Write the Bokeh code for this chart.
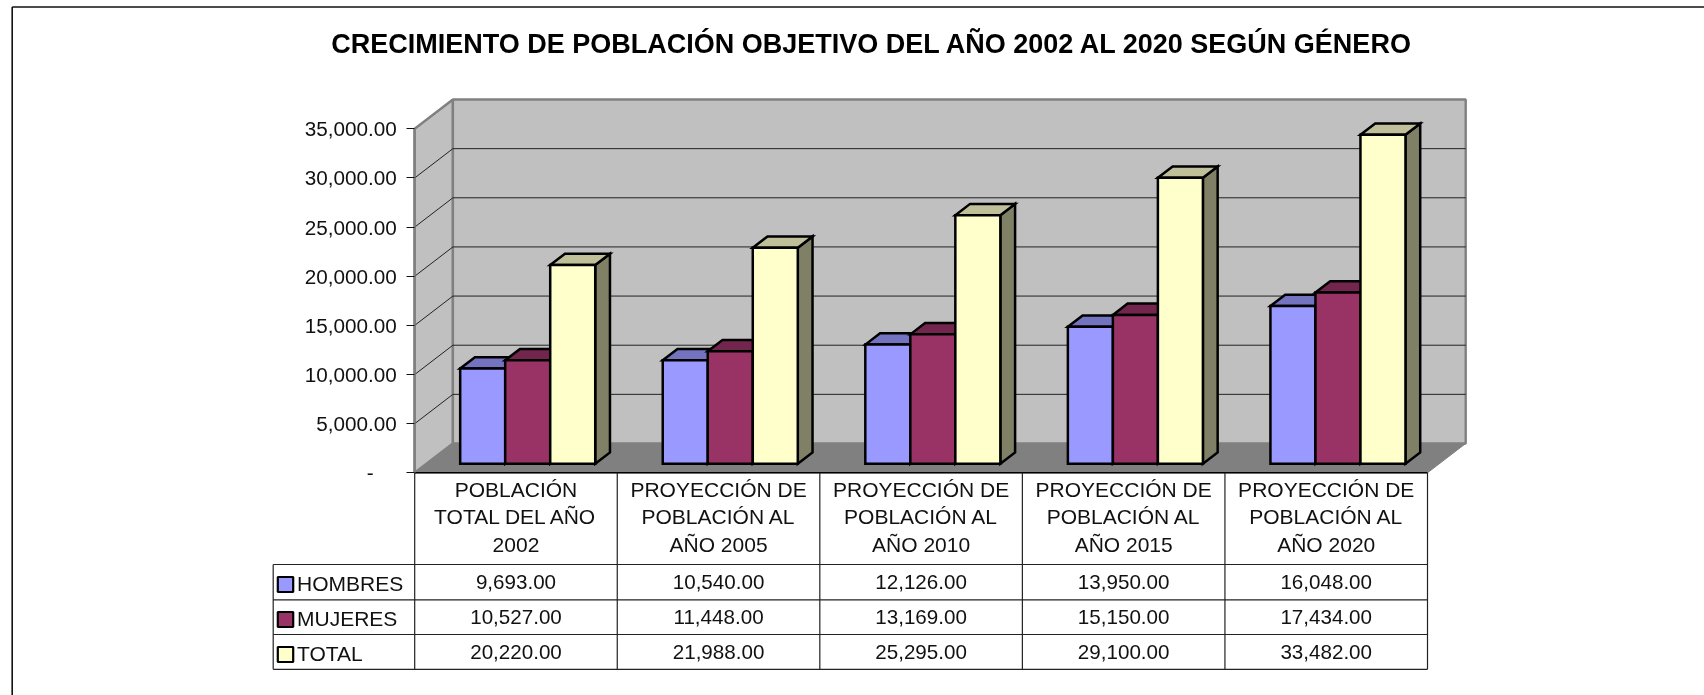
from bokeh.plotting import figure
from bokeh.embed import file_html
from bokeh.resources import INLINE
from bokeh.core.properties import value
from bokeh.models import LinearAxis, FixedTicker, NumeralTickFormatter

TITLE = "CRECIMIENTO DE POBLACIÓN OBJETIVO DEL AÑO 2002 AL 2020 SEGÚN GÉNERO"
categories = [
    ["POBLACIÓN", "TOTAL DEL AÑO", "2002"],
    ["PROYECCIÓN DE", "POBLACIÓN AL", "AÑO 2005"],
    ["PROYECCIÓN DE", "POBLACIÓN AL", "AÑO 2010"],
    ["PROYECCIÓN DE", "POBLACIÓN AL", "AÑO 2015"],
    ["PROYECCIÓN DE", "POBLACIÓN AL", "AÑO 2020"],
]
series_names = ["HOMBRES", "MUJERES", "TOTAL"]
hombres = [9693, 10540, 12126, 13950, 16048]
mujeres = [10527, 11448, 13169, 15150, 17434]
total = [20220, 21988, 25295, 29100, 33482]
ticks = [0, 5000, 10000, 15000, 20000, 25000, 30000, 35000]

series = [hombres, mujeres, total]
front = ["#9999FF", "#993366", "#FFFFCC"]
top = ["#7373BF", "#73264D", "#BFBF99"]
side = ["#66669A", "#661A44", "#808066"]

W, H = 1704, 695
FONT = value("Liberation Sans")
PX_X0, PX_X5, PX_Y0, PX_Y35 = 414.2, 1427.0, 472.3, 128.3
ux = (PX_X5 - PX_X0) / 5          # px per category
uy = (PX_Y0 - PX_Y35) / 35000     # px per value unit
X = lambda px: (px - PX_X0) / ux
Y = lambda px: (PX_Y0 - px) / uy
DX, DY = 38.2 / ux, 29.3 / uy     # depth of the 3D box in data units
YMAX = max(ticks)

p = figure(width=W, height=H, output_backend="svg", toolbar_location=None,
           x_range=(X(0), X(W)), y_range=(Y(H), Y(0)),
           x_axis_location=None, y_axis_location=None,
           min_border=0, outline_line_color=None, background_fill_color="white",
           tools="", match_aspect=False)
p.grid.visible = False
p.styles = {"position": "fixed", "left": "0px", "top": "0px"}


def d(x, y, depth):
    return x + depth * DX, y + depth * DY


# chart border
p.line([X(11.7), X(11.7)], [Y(H), Y(6.5)], line_color="#111111", line_width=1.6)
p.line([X(11.7), X(W)], [Y(6.5), Y(6.5)], line_color="#111111", line_width=1.6)

# walls and floor
p.patch(*zip(d(0, 0, 0), d(0, 0, 1), d(0, YMAX, 1), d(0, YMAX, 0)),
        fill_color="#C0C0C0", line_color="#808080", line_width=2.4)
p.patch(*zip(d(0, 0, 1), d(5, 0, 1), d(5, YMAX, 1), d(0, YMAX, 1)),
        fill_color="#C0C0C0", line_color="#808080", line_width=2.4)
p.patch(*zip(d(0, 0, 0), d(0, 0, 1), d(5, 0, 1), d(5, 0, 0)),
        fill_color="#808080", line_color="#808080", line_width=1)

# gridlines
for t in ticks[1:-1]:
    xs, ys = zip(d(0, t, 0), d(0, t, 1), d(5, t, 1))
    p.line(list(xs), list(ys), line_color="#222222", line_width=1)

# bars
D1, D2 = 0.307, 0.693
GAP, BW = 1 / 6, 2 / 9
for c in range(5):
    for s in range(3):
        v = series[s][c]
        l = c + GAP + s * BW
        r = l + BW
        kw = dict(line_color="black", line_width=2.5, line_join="miter")
        p.patch(*zip(d(r, 0, D1), d(r, 0, D2), d(r, v, D2), d(r, v, D1)), fill_color=side[s], **kw)
        p.patch(*zip(d(l, v, D1), d(l, v, D2), d(r, v, D2), d(r, v, D1)), fill_color=top[s], **kw)
        p.patch(*zip(d(l, 0, D1), d(r, 0, D1), d(r, v, D1), d(l, v, D1)), fill_color=front[s], **kw)

# y axis
axis = LinearAxis(fixed_location=0, bounds=(0, YMAX), ticker=FixedTicker(ticks=ticks),
                  formatter=NumeralTickFormatter(format="0,0.00"),
                  major_label_overrides={0: "-\u00a0\u00a0\u00a0\u00a0"},
                  major_tick_out=8, major_tick_in=0, minor_tick_out=0, minor_tick_in=0,
                  major_tick_line_color="#111111", major_tick_line_width=1,
                  axis_line_color="#808080", axis_line_width=2.4,
                  major_label_standoff=10,
                  major_label_text_font="Liberation Sans",
                  major_label_text_font_size="20.7px", major_label_text_color="#111111")
p.add_layout(axis, "left")

# data table
LINE = "#222222"
row_lines = [564, 599.3, 634.0, 668.8]
p.line([0, 5], [0, 0], line_color="black", line_width=1.6)
for c in range(6):
    p.line([c, c], [0, Y(row_lines[-1])], line_color=LINE, line_width=1.2)
p.line([X(272.7), X(272.7)], [Y(row_lines[0]), Y(row_lines[-1])], line_color=LINE, line_width=1.2)
for yy in row_lines:
    p.line([X(272.7), 5], [Y(yy), Y(yy)], line_color=LINE, line_width=1.2)

txt = dict(text_font=FONT, text_font_size=value("21px"), text_color="#111111",
           text_baseline="middle")
val = dict(txt, text_font_size=value("20.6px"))
for c, lines in enumerate(categories):
    p.text([c + 0.5] * 3, [Y(489), Y(516.3), Y(544)], text=lines, text_align="center", **txt)
for s, yy in enumerate([581, 616.7, 651.7]):
    p.text([c + 0.5 for c in range(5)], [Y(yy)] * 5,
           text=[f"{v:,.2f}" for v in series[s]], text_align="center", **val)

# legend keys
for s, yy in enumerate([584, 619, 654]):
    p.patch([X(277.3), X(292.7), X(292.7), X(277.3)],
            [Y(yy - 7.5), Y(yy - 7.5), Y(yy + 7.5), Y(yy + 7.5)],
            fill_color=front[s], line_color="black", line_width=2.2)
    p.text([X(296.5)], [Y(yy - 1)], text=[series_names[s]], text_align="left", **txt)

# title
p.text([X(872)], [Y(43.5)], text=[TITLE], text_align="center", text_baseline="middle",
       text_font=FONT, text_font_size=value("27px"), text_font_style="bold", text_color="black")

open("out.html", "w").write(file_html(p, INLINE))
